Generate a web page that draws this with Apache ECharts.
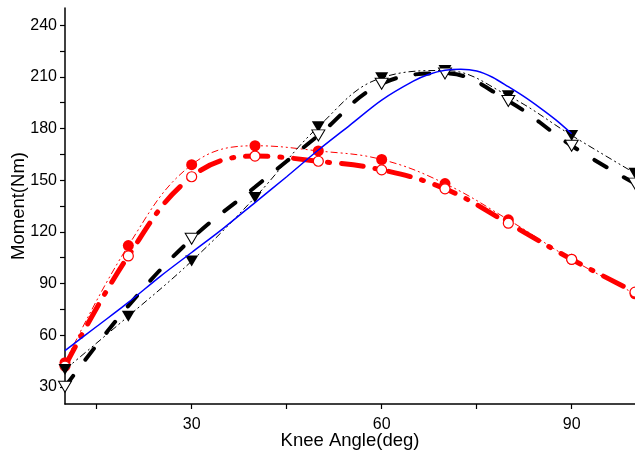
<!DOCTYPE html>
<html>
<head>
<meta charset="utf-8">
<script src="https://cdn.jsdelivr.net/npm/echarts@6/dist/echarts.min.js"></script>
<style>html,body{margin:0;padding:0;background:#fff}#c{width:635px;height:453px}</style>
</head>
<body>
<div id="c"></div>
<script>
// Data
const angles = [10, 20, 30, 40, 50, 60, 70, 80, 90, 100];
const redFilled = [44, 112, 159, 170, 167, 162, 148, 127, 104, 84];
const redOpen = [42, 106, 152, 164, 161, 156, 145, 125, 104, 85];
const blackFilled = [40, 71, 103, 140, 181, 209.5, 213.7, 199, 176, 154];
const blackOpen = [30, 77, 116, 146, 176, 206, 212, 196, 170, 148];
const blackOpenMarked = [true, false, true, false, true, true, true, true, true, true];
const blueAngles = [10, 15, 20, 25, 30, 35, 40, 45, 50, 55, 60, 65, 67.5, 70, 72.5, 75, 77.5, 80, 82.5, 85, 87.5, 90];
const blueValues = [51, 65, 79, 94, 108, 122, 137, 152, 167.5, 182, 196.5, 207.5, 211.5, 213.8, 214.4, 213.4, 209.8, 204.3, 198.5, 192, 185, 177];
const xTicks = [15, 30, 45, 60, 75, 90];
const xLabels = [30, 60, 90];
const yTicks = [30, 45, 60, 75, 90, 105, 120, 135, 150, 165, 180, 195, 210, 225, 240];
const yLabels = [30, 60, 90, 120, 150, 180, 210, 240];

const pair = (xs, ys) => xs.map((x, i) => [x, ys[i]]);
const FONT = '"Liberation Sans", Arial, sans-serif';

const chart = echarts.init(document.getElementById('c'), null, {renderer: 'canvas'});
chart.setOption({
  animation: false,
  backgroundColor: '#fff',
  grid: {left: 65, right: 0, top: 8, bottom: 49, containLabel: false, outerBoundsMode: 'none'},
  xAxis: {
    type: 'value', min: 10, max: 100,
    name: 'Knee Angle(deg)', nameLocation: 'middle', nameGap: 27, nameMoveOverlap: false,
    nameTextStyle: {fontFamily: FONT, fontSize: 18.5, color: '#000'},
    axisLine: {show: true, onZero: false, lineStyle: {color: '#000', width: 1.5}},
    axisTick: {show: true, inside: false, length: 5, customValues: xTicks, lineStyle: {color: '#000', width: 1.2}},
    axisLabel: {customValues: xLabels, margin: 13, fontFamily: FONT, fontSize: 16, color: '#000'},
    splitLine: {show: false}
  },
  yAxis: {
    type: 'value', min: 20, max: 250,
    name: 'Moment(Nm)', nameLocation: 'middle', nameGap: 37, nameMoveOverlap: false,
    nameTextStyle: {fontFamily: FONT, fontSize: 18.5, color: '#000'},
    axisLine: {show: true, onZero: false, lineStyle: {color: '#000', width: 1.5}},
    axisTick: {show: true, inside: false, length: 5, customValues: yTicks, lineStyle: {color: '#000', width: 1.2}},
    axisLabel: {customValues: yLabels, margin: 8, fontFamily: FONT, fontSize: 16, color: '#000'},
    splitLine: {show: false}
  },
  series: [
    {
      type: 'line', data: pair(angles, redFilled), smooth: 0.4,
      symbol: 'circle', symbolSize: 11,
      itemStyle: {color: '#ff0000'},
      lineStyle: {color: '#ff0000', width: 1, type: [7, 3, 2, 3, 2, 3]},
      z: 3
    },
    {
      type: 'line', data: pair(angles, redOpen), smooth: 0.4,
      symbol: 'circle', symbolSize: 10, showAllSymbol: true,
      itemStyle: {color: '#fff', borderColor: '#ff0000', borderWidth: 1.2},
      lineStyle: {color: '#ff0000', width: 5, type: [22, 12, 2, 12], cap: 'round'},
      z: 4
    },
    {
      type: 'line', data: pair(angles, blackFilled), smooth: 0.4,
      symbol: 'triangle', symbolRotate: 180, symbolSize: [13, 11],
      itemStyle: {color: '#000'},
      lineStyle: {color: '#000', width: 1, type: [7, 3, 2, 3, 2, 3]},
      z: 5
    },
    {
      type: 'line',
      data: angles.map((x, i) => blackOpenMarked[i] ? [x, blackOpen[i]] : {value: [x, blackOpen[i]], symbol: 'none'}),
      smooth: 0.4,
      symbol: 'triangle', symbolRotate: 180, symbolSize: [13, 11], showAllSymbol: true,
      itemStyle: {color: '#fff', borderColor: '#000', borderWidth: 1},
      lineStyle: {color: '#000', width: 4, type: [14, 20], cap: 'round'},
      z: 6
    },
    {
      type: 'line', data: pair(blueAngles, blueValues), smooth: 0.3,
      symbol: 'none',
      lineStyle: {color: '#0000ff', width: 1.5},
      z: 7
    }
  ]
});
</script>
</body>
</html>
